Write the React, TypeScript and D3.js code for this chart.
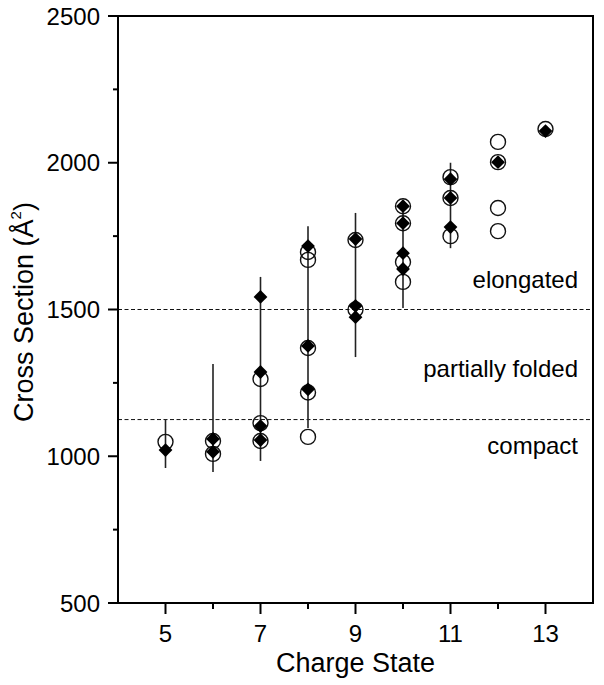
import React, { useEffect, useRef } from 'react';
import * as d3 from 'd3';

// charge state -> cross sections (Å²)
const openCharge = [5, 6, 6, 7, 7, 7, 8, 8, 8, 8, 8, 9, 9, 10, 10, 10, 10, 11, 11, 11, 12, 12, 12, 12, 13];
const openCS = [1049, 1052, 1008, 1263, 1113, 1052, 1696, 1669, 1369, 1217, 1066, 1737, 1500, 1852, 1794, 1662, 1594, 1951, 1880, 1750, 2071, 2002, 1846, 1767, 2115];

const filledCharge = [5, 6, 6, 7, 7, 7, 7, 8, 8, 8, 9, 9, 9, 10, 10, 10, 10, 11, 11, 11, 12, 13];
const filledCS = [1021, 1059, 1015, 1543, 1287, 1103, 1055, 1716, 1376, 1228, 1740, 1512, 1474, 1852, 1794, 1692, 1638, 1944, 1880, 1781, 2002, 2108];

const barCharge = [5, 6, 7, 8, 9, 10, 11];
const barLow = [960, 946, 984, 1096, 1338, 1505, 1709];
const barHigh = [1127, 1314, 1611, 1784, 1829, 1845, 2000];

const regionLines = [1500, 1125];
const regionLabels = ['elongated', 'partially folded', 'compact'];
const regionLabelCS = [1573, 1270, 1008];

const yMajor = [500, 1000, 1500, 2000, 2500];
const yMinor = [750, 1250, 1750, 2250];
const xMajor = [5, 7, 9, 11, 13];
const xMinor = [6, 8, 10, 12];

const FONT = '"Liberation Sans", Arial, sans-serif';

const App = () => {
  const ref = useRef<SVGSVGElement | null>(null);

  useEffect(() => {
    if (!ref.current) return;
    const svg = d3.select(ref.current);
    svg.selectAll('*').remove();

    const left = 118, right = 593, top = 16, bottom = 603;
    const x = d3.scaleLinear().domain([4, 14]).range([left, right]);
    const y = d3.scaleLinear().domain([500, 2500]).range([bottom, top]);

    // dashed region boundaries
    svg.selectAll('line.region')
      .data(regionLines)
      .enter()
      .append('line')
      .attr('x1', left).attr('x2', right)
      .attr('y1', d => y(d)).attr('y2', d => y(d))
      .attr('stroke', '#111')
      .attr('stroke-width', 1)
      .attr('stroke-dasharray', '4,2.5');

    // region labels
    svg.selectAll('text.region')
      .data(regionLabels)
      .enter()
      .append('text')
      .attr('x', 578)
      .attr('y', (d, i) => y(regionLabelCS[i]))
      .attr('text-anchor', 'end')
      .attr('font-family', FONT)
      .attr('font-size', 24)
      .text(d => d);

    // error bars
    svg.selectAll('line.err')
      .data(barCharge)
      .enter()
      .append('line')
      .attr('x1', d => x(d)).attr('x2', d => x(d))
      .attr('y1', (d, i) => y(barLow[i]))
      .attr('y2', (d, i) => y(barHigh[i]))
      .attr('stroke', '#222')
      .attr('stroke-width', 1.6);

    // open circles
    svg.selectAll('circle.open')
      .data(openCharge)
      .enter()
      .append('circle')
      .attr('cx', d => x(d))
      .attr('cy', (d, i) => y(openCS[i]))
      .attr('r', 7.5)
      .attr('fill', 'none')
      .attr('stroke', '#111')
      .attr('stroke-width', 1.4);

    // filled diamonds
    const diamond = d3.symbol().type(d3.symbolSquare).size(95);
    svg.selectAll('path.filled')
      .data(filledCharge)
      .enter()
      .append('path')
      .attr('d', diamond)
      .attr('transform', (d, i) => `translate(${x(d)},${y(filledCS[i])}) rotate(45)`)
      .attr('fill', '#000');

    // frame
    svg.append('rect')
      .attr('x', left).attr('y', top)
      .attr('width', right - left).attr('height', bottom - top)
      .attr('fill', 'none')
      .attr('stroke', '#000')
      .attr('stroke-width', 2);

    // y ticks
    const yAxis = svg.append('g');
    yAxis.selectAll('line.maj')
      .data(yMajor).enter().append('line')
      .attr('x1', left - 10).attr('x2', left)
      .attr('y1', d => y(d)).attr('y2', d => y(d))
      .attr('stroke', '#000').attr('stroke-width', 2);
    yAxis.selectAll('line.min')
      .data(yMinor).enter().append('line')
      .attr('x1', left - 5).attr('x2', left)
      .attr('y1', d => y(d)).attr('y2', d => y(d))
      .attr('stroke', '#000').attr('stroke-width', 2);
    yAxis.selectAll('text')
      .data(yMajor).enter().append('text')
      .attr('x', 100)
      .attr('y', d => y(d) + 8.5)
      .attr('text-anchor', 'end')
      .attr('font-family', FONT)
      .attr('font-size', 24)
      .text(d => d);

    // x ticks
    const xAxis = svg.append('g');
    xAxis.selectAll('line.maj')
      .data(xMajor).enter().append('line')
      .attr('x1', d => x(d)).attr('x2', d => x(d))
      .attr('y1', bottom).attr('y2', bottom + 11)
      .attr('stroke', '#000').attr('stroke-width', 2);
    xAxis.selectAll('line.min')
      .data(xMinor).enter().append('line')
      .attr('x1', d => x(d)).attr('x2', d => x(d))
      .attr('y1', bottom).attr('y2', bottom + 6)
      .attr('stroke', '#000').attr('stroke-width', 2);
    xAxis.selectAll('text')
      .data(xMajor).enter().append('text')
      .attr('x', d => x(d))
      .attr('y', 642)
      .attr('text-anchor', 'middle')
      .attr('font-family', FONT)
      .attr('font-size', 24)
      .text(d => d);

    // axis titles
    svg.append('text')
      .attr('x', (left + right) / 2)
      .attr('y', 672)
      .attr('text-anchor', 'middle')
      .attr('font-family', FONT)
      .attr('font-size', 27)
      .text('Charge State');

    const yTitle = svg.append('text')
      .attr('transform', `translate(33,312) rotate(-90)`)
      .attr('text-anchor', 'middle')
      .attr('font-family', FONT)
      .attr('font-size', 27);
    yTitle.append('tspan').text('Cross Section (Å');
    yTitle.append('tspan').attr('font-size', 15).attr('dy', -12).text('2');
    yTitle.append('tspan').attr('dy', 12).text(')');
  }, []);

  return (
    <svg
      ref={ref}
      width={604}
      height={685}
      style={{ position: 'absolute', top: 0, left: 0, background: '#fff' }}
    />
  );
};

export default App;
